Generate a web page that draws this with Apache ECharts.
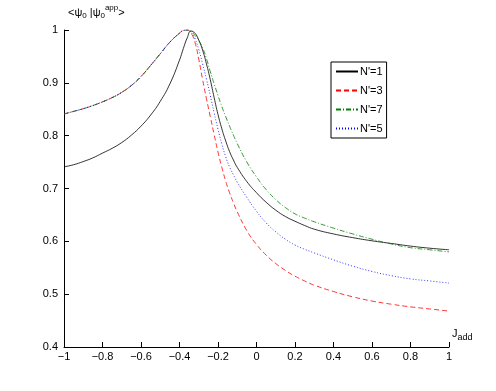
<!DOCTYPE html>
<html>
<head>
<meta charset="utf-8">
<script src="https://cdn.jsdelivr.net/npm/echarts@6/dist/echarts.min.js"></script>
<style>
  html, body { margin: 0; padding: 0; background: #fff; }
  #chart { width: 496px; height: 391px; }
</style>
</head>
<body>
<div id="chart"></div>
<script>
// J_add values (shared x for every curve)
var jadd = [-1, -0.95, -0.9, -0.85, -0.8, -0.75, -0.7, -0.65, -0.6, -0.55, -0.5, -0.45, -0.4,
  -0.38, -0.36, -0.34, -0.32, -0.3, -0.28, -0.26, -0.24, -0.22, -0.2, -0.18, -0.16, -0.14, -0.12, -0.1,
  -0.05, 0, 0.05, 0.1, 0.15, 0.2, 0.25, 0.3,
  0.4, 0.5, 0.6, 0.7, 0.8, 0.9, 1];

// overlap values
var n1 = [0.741, 0.745, 0.751, 0.758, 0.767, 0.776, 0.787, 0.801, 0.818, 0.839, 0.865, 0.898, 0.943,
  0.965, 0.985, 0.998, 0.994, 0.981, 0.962, 0.936, 0.906, 0.872, 0.840, 0.813, 0.790, 0.770, 0.754, 0.740,
  0.713, 0.692, 0.674, 0.659, 0.647, 0.638, 0.630, 0.623,
  0.614, 0.607, 0.601, 0.596, 0.591, 0.587, 0.584];
var n3 = [0.841, 0.846, 0.851, 0.857, 0.864, 0.872, 0.882, 0.895, 0.912, 0.933, 0.955, 0.977, 0.994,
  0.999, 1.0, 0.994, 0.977, 0.945, 0.906, 0.870, 0.836, 0.802, 0.769, 0.740, 0.714, 0.692, 0.673, 0.656,
  0.620, 0.594, 0.574, 0.558, 0.545, 0.534, 0.525, 0.517,
  0.505, 0.495, 0.487, 0.481, 0.476, 0.472, 0.468];
var n7 = [0.841, 0.846, 0.851, 0.857, 0.864, 0.872, 0.882, 0.895, 0.912, 0.933, 0.955, 0.977, 0.994,
  0.999, 1.0, 0.997, 0.990, 0.980, 0.966, 0.946, 0.921, 0.898, 0.876, 0.855, 0.836, 0.818, 0.801, 0.785,
  0.750, 0.722, 0.698, 0.679, 0.664, 0.652, 0.644, 0.637,
  0.625, 0.614, 0.604, 0.595, 0.588, 0.584, 0.580];
var n5 = [0.841, 0.846, 0.851, 0.857, 0.864, 0.872, 0.882, 0.895, 0.912, 0.933, 0.955, 0.977, 0.994,
  0.999, 1.0, 0.995, 0.984, 0.963, 0.936, 0.907, 0.876, 0.843, 0.812, 0.784, 0.760, 0.741, 0.726, 0.712,
  0.683, 0.657, 0.635, 0.618, 0.604, 0.593, 0.585, 0.578,
  0.565, 0.553, 0.543, 0.535, 0.529, 0.525, 0.521];

var names = ["N'=1", "N'=3", "N'=7", "N'=5"];

function pairs(ys) {
  var out = [];
  for (var i = 0; i < jadd.length; i++) out.push([jadd[i], ys[i]]);
  return out;
}

var font = 'Liberation Sans, Arial, sans-serif';
var chart = echarts.init(document.getElementById('chart'), null, { renderer: 'canvas' });

function line(name, ys, color, dash) {
  return {
    name: name, type: 'line', symbol: 'none', showSymbol: false,
    smooth: 0.5, data: pairs(ys),
    lineStyle: { color: color, width: 0.8, type: dash },
    itemStyle: { color: color }
  };
}

chart.setOption({
  animation: false,
  backgroundColor: '#fff',
  textStyle: { fontFamily: font },
  grid: { left: 64, right: 47, top: 30, bottom: 44 },
  legend: {
    orient: 'vertical',
    left: 331,
    top: 62,
    padding: [4, 4, 4, 4],
    itemGap: 8,
    itemWidth: 22,
    itemHeight: 10,
    borderColor: '#000',
    borderWidth: 1,
    backgroundColor: '#fff',
    itemStyle: { opacity: 0 },
    textStyle: { fontSize: 11, color: '#000', fontFamily: font, padding: [0, 0, 0, -3] },
    data: names
  },
  xAxis: {
    type: 'value',
    min: -1,
    max: 1,
    interval: 0.2,
    name: '{j|J}{sub|add}',
    nameLocation: 'end',
    nameGap: 3,
    nameTextStyle: {
      align: 'left',
      verticalAlign: 'bottom',
      rich: {
        j: { fontSize: 11, color: '#000', fontFamily: font, padding: [0, 0, 8, 0] },
        sub: { fontSize: 9, color: '#000', fontFamily: font }
      }
    },
    axisLine: { onZero: false, lineStyle: { color: '#000', width: 1 } },
    axisTick: { inside: true, length: 5, lineStyle: { color: '#000' } },
    axisLabel: {
      color: '#000', fontSize: 11, fontFamily: font, margin: 4,
      formatter: function (v) { return String(parseFloat(v.toFixed(1))).replace('-', '\u2212'); }
    },
    splitLine: { show: false }
  },
  yAxis: {
    type: 'value',
    min: 0.4,
    max: 1,
    interval: 0.1,
    name: '<ψ{sub|0} |ψ{sub|0}{sup|app}>',
    nameLocation: 'end',
    nameGap: 8,
    nameTextStyle: {
      align: 'left',
      fontSize: 11,
      color: '#000',
      padding: [0, 0, 0, 4],
      rich: {
        sub: { fontSize: 8, color: '#000', fontFamily: font, padding: [6, 0, 0, 0] },
        sup: { fontSize: 8, color: '#000', fontFamily: font, padding: [0, 0, 10, 0] }
      }
    },
    axisLine: { show: true, onZero: false, lineStyle: { color: '#000', width: 1 } },
    axisTick: { show: true, inside: true, length: 5, lineStyle: { color: '#000' } },
    axisLabel: {
      color: '#000', fontSize: 11, fontFamily: font, margin: 6,
      formatter: function (v) { return String(parseFloat(v.toFixed(1))); }
    },
    splitLine: { show: false }
  },
  series: [
    line(names[0], n1, '#000000', 'solid'),
    line(names[1], n3, '#ff0000', [5, 3]),
    line(names[2], n7, '#008000', [5, 2, 1, 2]),
    line(names[3], n5, '#0000ff', [1, 2])
  ]
});
</script>
</body>
</html>
